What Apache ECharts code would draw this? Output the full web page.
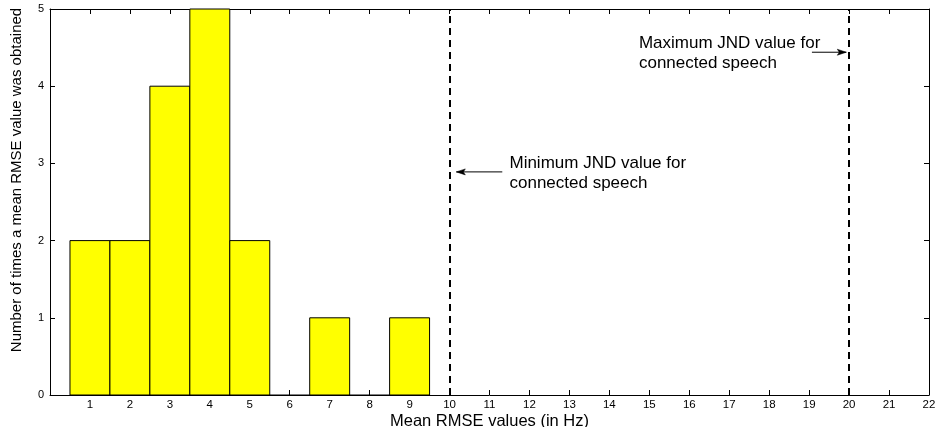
<!DOCTYPE html>
<html>
<head>
<meta charset="utf-8">
<script src="https://cdn.jsdelivr.net/npm/echarts@6/dist/echarts.min.js"></script>
<style>
  html, body { margin: 0; padding: 0; background: #fff; }
  #chart { width: 935px; height: 427px; }
</style>
</head>
<body>
<div id="chart"></div>
<script>
// Histogram of mean RMSE values (bin centres in Hz) and their counts
const binCentres = [1, 2, 3, 4, 5, 6, 7, 8, 9];
const counts = [2, 2, 4, 5, 2, 0, 1, 0, 1];
const binWidth = 1;

// Reference thresholds (JND limits for connected speech)
const jndLines = [10, 20];

// Annotation text blocks: top-left anchor [x, y] in data units, text lines
const annotations = [
  { at: [11.5, 3.13], lines: ['Minimum JND value for', 'connected speech'] },
  { at: [14.74, 4.68], lines: ['Maximum JND value for', 'connected speech'] }
];
// Arrows: [fromX, fromY, toX, toY]
const arrows = [
  [11.32, 2.89, 10.17, 2.89],
  [19.07, 4.44, 19.93, 4.44]
];

const FONT = 'Liberation Sans, Arial, sans-serif';
const chart = echarts.init(document.getElementById('chart'));

const tickStyle = { show: true, inside: true, length: 5, lineStyle: { color: '#000', width: 1 } };
const axisLineStyle = { show: true, onZero: false, lineStyle: { color: '#000', width: 1 } };

chart.setOption({
  animation: false,
  backgroundColor: '#fff',
  grid: { left: 50, right: 6, top: 9, bottom: 32, containLabel: false, outerBoundsMode: 'none' },
  xAxis: [
    {
      type: 'value', min: 0, max: 22, interval: 1,
      name: 'Mean RMSE values (in Hz)', nameLocation: 'middle', nameGap: 18,
      nameMoveOverlap: false,
      nameTextStyle: { fontFamily: FONT, fontSize: 16.5, color: '#000' },
      axisLine: axisLineStyle, axisTick: tickStyle,
      axisLabel: {
        fontFamily: FONT, fontSize: 11.5, color: '#000', margin: 4,
        formatter: v => (v === 0 ? '' : String(v))
      },
      splitLine: { show: false }
    },
    {
      type: 'value', min: 0, max: 22, interval: 1, position: 'top',
      axisLine: axisLineStyle, axisTick: tickStyle,
      axisLabel: { show: false }, splitLine: { show: false }
    }
  ],
  yAxis: [
    {
      type: 'value', min: 0, max: 5, interval: 1,
      name: 'Number of times a mean RMSE value was obtained',
      nameLocation: 'middle', nameGap: 26,
      nameMoveOverlap: false,
      nameTextStyle: { fontFamily: FONT, fontSize: 15, color: '#000', padding: [0, 0, 0, 44] },
      axisLine: axisLineStyle, axisTick: tickStyle,
      axisLabel: { fontFamily: FONT, fontSize: 11, color: '#000', margin: 6 },
      splitLine: { show: false }
    },
    {
      type: 'value', min: 0, max: 5, interval: 1, position: 'right',
      axisLine: axisLineStyle, axisTick: tickStyle,
      axisLabel: { show: false }, splitLine: { show: false }
    }
  ],
  series: [
    {
      type: 'custom',
      data: binCentres.map((c, i) => [c, counts[i]]),
      renderItem: (params, api) => {
        const c = api.value(0), n = api.value(1);
        const p0 = api.coord([c - binWidth / 2, n]);
        const p1 = api.coord([c + binWidth / 2, 0]);
        if (n === 0) {
          return {
            type: 'line',
            shape: { x1: p0[0], y1: p1[1], x2: p1[0], y2: p1[1] },
            style: { stroke: '#000', lineWidth: 1 }
          };
        }
        return {
          type: 'rect',
          shape: { x: p0[0], y: p0[1], width: p1[0] - p0[0], height: p1[1] - p0[1] },
          style: { fill: '#ffff00', stroke: '#000', lineWidth: 1 }
        };
      },
      z: 2
    },
    {
      type: 'line',
      data: [],
      markLine: {
        silent: true,
        symbol: 'none',
        label: { show: false },
        lineStyle: { color: '#000', width: 2, type: [7, 5] },
        data: jndLines.map(x => ({ xAxis: x }))
      },
      z: 3
    },
    {
      type: 'custom',
      data: arrows,
      renderItem: (params, api) => {
        const a = api.coord([api.value(0), api.value(1)]);
        const b = api.coord([api.value(2), api.value(3)]);
        const dir = Math.sign(b[0] - a[0]);
        const hx = b[0] - dir * 9;
        return {
          type: 'group',
          children: [
            { type: 'line', shape: { x1: a[0], y1: a[1], x2: b[0], y2: b[1] },
              style: { stroke: '#000', lineWidth: 1 } },
            { type: 'polygon', shape: { points: [[b[0], b[1]], [hx, b[1] - 3], [hx + dir * 2, b[1]], [hx, b[1] + 3]] },
              style: { fill: '#000', stroke: '#000', lineWidth: 0.5 } }
          ]
        };
      },
      z: 4
    },
    {
      type: 'custom',
      data: annotations.map(a => [a.at[0], a.at[1]]),
      renderItem: (params, api) => {
        const p = api.coord([api.value(0), api.value(1)]);
        return {
          type: 'text',
          x: p[0], y: p[1],
          style: {
            text: annotations[params.dataIndex].lines.join('\n'),
            fontFamily: FONT, fontSize: 17, lineHeight: 20,
            fill: '#000', align: 'left', verticalAlign: 'top'
          }
        };
      },
      z: 4
    }
  ]
});
</script>
</body>
</html>
